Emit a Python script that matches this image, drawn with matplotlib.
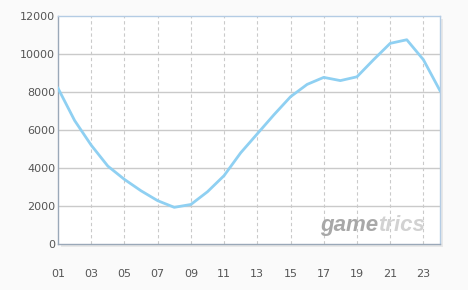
import matplotlib.pyplot as plt
import numpy as np

hours = list(range(1, 25))
values = [8200, 6500, 5200, 4100, 3400, 2800, 2280, 1930, 2080, 2750, 3600, 4800,
          5800, 6800, 7750, 8400, 8770, 8600, 8800, 9700, 10560, 10750, 9700, 8070]
xtick_pos = list(range(1, 25, 2))
xtick_labels = ['%02d' % h for h in xtick_pos]
ytick_pos = [0, 2000, 4000, 6000, 8000, 10000, 12000]

fig = plt.figure(figsize=(4.68, 2.90), dpi=100, facecolor='#fafafa')
# axes box in pixels: left 58, right 440, top 16, bottom 244
W, H = 468.0, 290.0
ax = fig.add_axes([58 / W, (H - 244) / H, (440 - 58) / W, (244 - 16) / H])

# drop shadow
shadow = fig.add_axes([61 / W, (H - 247) / H, (440 - 58) / W, (244 - 16) / H], zorder=-1)
shadow.set_facecolor('#e8e8e8')
shadow.set_xticks([])
shadow.set_yticks([])
for s in shadow.spines.values():
    s.set_visible(False)

ax.set_facecolor('white')
ax.set_xlim(1, 24)
ax.set_ylim(0, 12000)

for y in ytick_pos[1:-1]:
    ax.axhline(y, color='#cacaca', linewidth=1, zorder=1)
for x in range(3, 24, 2):
    ax.axvline(x, color='#cacaca', linewidth=0.8, linestyle=(0, (3, 2.5)), zorder=1)

ax.plot(hours, values, color='#8fd0f2', linewidth=2, zorder=3, solid_joinstyle='round')

ax.set_xticks(xtick_pos)
ax.set_xticklabels(xtick_labels)
ax.set_yticks(ytick_pos)
ax.set_yticklabels([str(v) for v in ytick_pos])
ax.tick_params(axis='both', length=0, labelsize=8, labelcolor='#555555')
ax.tick_params(axis='x', pad=18)
ax.tick_params(axis='y', pad=2)

ax.spines['left'].set_color('#9aa8b8')
ax.spines['bottom'].set_color('#9aa8b8')
ax.spines['top'].set_color('#b4cce4')
ax.spines['right'].set_color('#b4cce4')
for s in ax.spines.values():
    s.set_linewidth(1)

# watermark
t1 = fig.text(320 / W, (H - 231) / H, 'game', fontsize=16, fontweight='bold', style='italic',
              color='#a8a8a8', family='Liberation Sans')
fig.canvas.draw()
bb = t1.get_window_extent()
fig.text(bb.x1 / W, (H - 231) / H, 'trics', fontsize=16, fontweight='bold', style='italic',
         color='#d2d2d2', family='Liberation Sans')

fig.savefig('out.png', dpi=100, facecolor=fig.get_facecolor())
